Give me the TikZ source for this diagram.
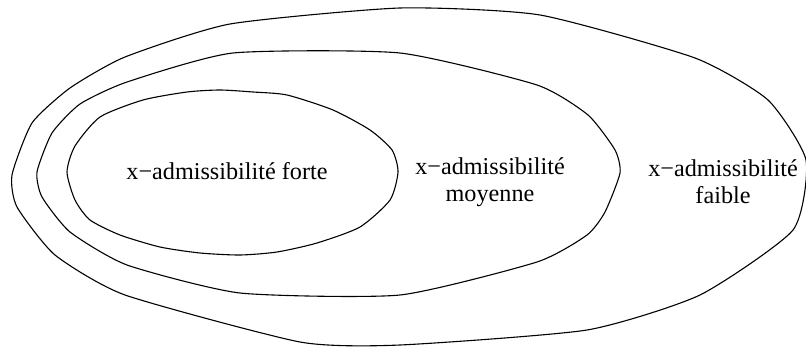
\documentclass[tikz,border=0pt]{standalone}
\usepackage{fontspec}
\setmainfont{Liberation Serif}
\begin{document}
\begin{tikzpicture}[x=0.5pt,y=-0.5pt,
  setline/.style={line width=0.55pt, line join=round},
  lbl/.style={font=\fontsize{12.1}{13.6}\selectfont, align=center, inner sep=0pt}]
\useasboundingbox (0,0) rectangle (806,347);
\draw[setline] plot[smooth cycle, tension=0.35] coordinates {
  (12,175) (32,123) (70,88) (125,57) (230,24) (400,8) (540,15) (695,58)
  (768,100) (806,160) (793,230) (700,295) (587,330) (400,345) (300,342)
  (125,295) (55,255) (17,207)};
\draw[setline] plot[smooth cycle, tension=0.35] coordinates {
  (37,172) (52,133) (80,104) (127,82) (233,53) (400,53) (537,85)
  (588,115) (615,150) (620,173) (605,212) (587,235) (537,262) (400,295)
  (240,293) (127,265) (70,232) (42,197)};
\draw[setline] plot[smooth cycle, tension=0.4] coordinates {
  (67,172) (75,146) (100,117) (143,100) (187,92) (220,90) (253,92) (287,95)
  (333,110) (370,130) (392,150) (398,172) (390,200) (360,227) (317,243)
  (277,252) (240,255) (200,253) (160,247) (120,235) (90,220) (75,200)};
\node[lbl] (forte) at (227,171) {x−admissibilité forte};
\node[lbl] (moyenne) at (490,182) {x−admissibilité\\moyenne};
\node[lbl] (faible) at (723,182) {x−admissibilité\\faible};
\end{tikzpicture}
\end{document}
